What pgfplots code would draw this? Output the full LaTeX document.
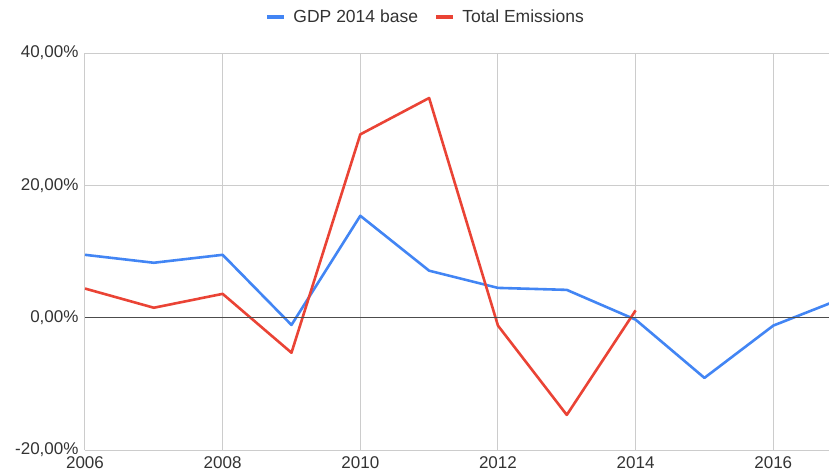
\documentclass[border=0pt]{standalone}
\usepackage{pgfplots}
\pgfplotsset{compat=1.18}
\usepackage{fontspec}
\setmainfont{Liberation Sans}
\definecolor{gblue}{HTML}{4285F4}
\definecolor{gred}{HTML}{EA4335}
\definecolor{ggrid}{HTML}{CCCCCC}
\definecolor{gtext}{HTML}{333333}
\begin{document}
\begin{tikzpicture}[x=1pt,y=1pt]
\begin{axis}[
  scale only axis,
  width=744pt, height=397pt,
  xmin=2006, xmax=2016.81,
  ymin=-20, ymax=40,
  axis line style={draw=none},
  clip=true,
  xtick={2006,2008,2010,2012,2014,2016},
  xticklabels={2006,2008,2010,2012,2014,2016},
  ytick={-20,0,20,40},
  yticklabels={{-20,00\%},{0,00\%},{20,00\%},{40,00\%}},
  major tick length=0pt,
  grid=major,
  major grid style={ggrid, line width=1pt},
  /pgf/number format/assume math mode=true,
  tick label style={font=\fontsize{17}{19}\selectfont, text=gtext},
  xticklabel shift=3pt,
  yticklabel shift=3pt,
  legend columns=2,
  legend style={draw=none, fill=none, at={(0.4577,1.0907)}, anchor=center,
    font=\fontsize{17.5}{19}\selectfont, text=gtext,
    /tikz/every even column/.append style={column sep=14pt}},
  legend image code/.code={\draw[#1, line width=4.5pt] (0pt,0pt) -- (17pt,0pt);\path[draw=none] (0pt,0pt) -- (24pt,0pt);},
]
\addplot[gblue, line width=2.6pt, line join=round] coordinates {
 (2006,9.5) (2007,8.3) (2008,9.5) (2009,-1.1) (2010,15.4) (2011,7.1)
 (2012,4.5) (2013,4.2) (2014,-0.3) (2015,-9.1) (2016,-1.2) (2017,2.9)};
\addlegendentry{GDP 2014 base}
\addplot[gred, line width=2.6pt, line join=round] coordinates {
 (2006,4.4) (2007,1.5) (2008,3.6) (2009,-5.3) (2010,27.7) (2011,33.2)
 (2012,-1.2) (2013,-14.7) (2014,1.1)};
\addlegendentry{Total Emissions}
\draw[black!70, line width=1.3pt] (axis cs:2006,0) -- (axis cs:2016.81,0);
\end{axis}
\pgfresetboundingbox
\path[use as bounding box] (-85,-24) rectangle (744,450);
\end{tikzpicture}
\end{document}
